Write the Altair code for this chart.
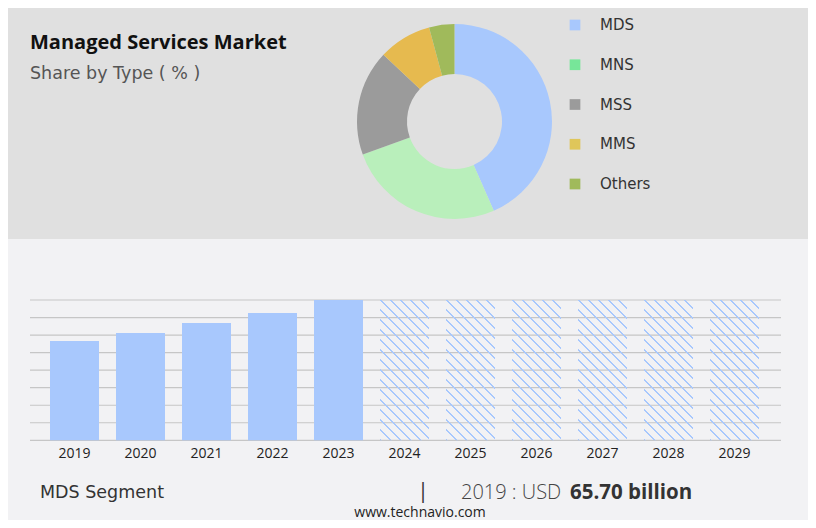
import altair as alt
import pandas as pd

# ---------------- data ----------------
types = ["MDS", "MNS", "MSS", "MMS", "Others"]
shares = [43.4, 26.1, 17.5, 8.8, 4.2]
slice_colors = ["#a8c8fd", "#b9efbb", "#9b9b9b", "#e6ba4f", "#a0ba5b"]
legend_colors = ["#a8c8fd", "#77e699", "#9b9b9b", "#dfc65a", "#a0ba5b"]

hist_years = ["2019", "2020", "2021", "2022", "2023"]
hist_values = [65.70, 71.0, 77.6, 84.2, 92.8]
fc_years = ["2024", "2025", "2026", "2027", "2028", "2029"]
all_years = hist_years + fc_years
Y_TOP = 92.8
grid_values = [0, 11.6, 23.2, 34.8, 46.4, 58.0, 69.6, 81.2, 92.8]

W, H = 800, 512
BAR_BLUE = "#a8c8fd"
FONT = "Open Sans"

# ---------------- scales ----------------
x_scale = alt.Scale(domain=all_years, range=[22, 771], paddingInner=0.2576, paddingOuter=0.303)
y_scale = alt.Scale(domain=[0, Y_TOP], range=[432.3, 292], nice=False, zero=True)

# hatch pattern via hard-stop linear gradient (diagonal stripes)
N = 19
stops = []
for i in range(N):
    a = i / N
    b = (i + 0.2) / N
    c = (i + 1) / N
    stops += [
        alt.GradientStop(offset=a, color=BAR_BLUE),
        alt.GradientStop(offset=b, color=BAR_BLUE),
        alt.GradientStop(offset=b, color="rgba(168,200,253,0)"),
        alt.GradientStop(offset=c, color="rgba(168,200,253,0)"),
    ]
hatch = alt.LinearGradient(gradient="linear", stops=stops, x1=0, y1=1, x2=0.421, y2=-0.203)

# ---------------- layers ----------------
one = pd.DataFrame({"k": [0]})

top_bg = alt.Chart(one).mark_rect(color="#e0e0e0").encode(
    x=alt.value(0), x2=alt.value(W), y=alt.value(0), y2=alt.value(231)
)

title = alt.Chart(pd.DataFrame({"t": ["Managed Services Market"]})).mark_text(
    align="left", baseline="middle", font=FONT, fontSize=20, fontWeight="bold", color="#111111"
).encode(text="t:N", x=alt.value(22), y=alt.value(35))

subtitle = alt.Chart(pd.DataFrame({"t": ["Share by Type ( % )"]})).mark_text(
    align="left", baseline="middle", font="DejaVu Sans", fontSize=17.5, color="#555555"
).encode(text="t:N", x=alt.value(22), y=alt.value(66))

pie_df = pd.DataFrame({"type": types, "share": shares, "idx": list(range(len(types)))})
donut = alt.Chart(pie_df).mark_arc(outerRadius=97.5, innerRadius=47.5).encode(
    theta=alt.Theta("share:Q", stack=True),
    order=alt.Order("idx:Q"),
    color=alt.Color("type:N", scale=alt.Scale(domain=types, range=slice_colors), legend=None),
    x=alt.value(446.5),
    y=alt.value(113.5),
)

leg_df = pd.DataFrame({"type": types})
leg_y = alt.Y("type:N", scale=alt.Scale(domain=types, range=[17, 176], type="point", padding=0), axis=None)
leg_sq = alt.Chart(leg_df).mark_square(size=115, opacity=1).encode(
    y=leg_y,
    x=alt.value(567),
    fill=alt.Fill("type:N", scale=alt.Scale(domain=types, range=legend_colors), legend=None),
)
leg_txt = alt.Chart(leg_df).mark_text(
    align="left", baseline="middle", font="DejaVu Sans", fontSize=15, color="#333333"
).encode(y=leg_y, x=alt.value(592), text="type:N")

grid = alt.Chart(pd.DataFrame({"v": grid_values})).mark_rule(color="#c6c6c6", strokeWidth=1.2).encode(
    y=alt.Y("v:Q", scale=y_scale, axis=None), x=alt.value(22), x2=alt.value(773)
)

hist_df = pd.DataFrame({"year": hist_years, "value": hist_values})
bars = alt.Chart(hist_df).mark_bar(color=BAR_BLUE).encode(
    x=alt.X("year:N", scale=x_scale, axis=None),
    y=alt.Y("value:Q", scale=y_scale, axis=None),
)

fc_df = pd.DataFrame({"year": fc_years, "value": [Y_TOP] * len(fc_years)})
fc_bars = alt.Chart(fc_df).mark_bar(color=hatch).encode(
    x=alt.X("year:N", scale=x_scale, axis=None),
    y=alt.Y("value:Q", scale=y_scale, axis=None),
)

year_lbl = alt.Chart(pd.DataFrame({"year": all_years})).mark_text(
    baseline="middle", font=FONT, fontSize=14, color="#222222"
).encode(x=alt.X("year:N", scale=x_scale, axis=None), y=alt.value(446), text="year:N")

seg = alt.Chart(pd.DataFrame({"t": ["MDS Segment"]})).mark_text(
    align="left", baseline="middle", font="DejaVu Sans", fontSize=17.5, color="#333333"
).encode(text="t:N", x=alt.value(32), y=alt.value(485))

bar_sep = alt.Chart(pd.DataFrame({"t": ["|"]})).mark_text(
    align="center", baseline="middle", font=FONT, fontSize=21, color="#333333"
).encode(text="t:N", x=alt.value(415), y=alt.value(484))

val_a = alt.Chart(pd.DataFrame({"t": ["2019 : USD"]})).mark_text(
    align="left", baseline="middle", font=FONT, fontSize=20, fontWeight=300, color="#444444"
).encode(text="t:N", x=alt.value(453), y=alt.value(485))

val_b = alt.Chart(pd.DataFrame({"t": ["65.70 billion"]})).mark_text(
    align="left", baseline="middle", font=FONT, fontSize=20.5, fontWeight="bold", color="#333333"
).encode(text="t:N", x=alt.value(562), y=alt.value(485))

site = alt.Chart(pd.DataFrame({"t": ["www.technavio.com"]})).mark_text(
    align="center", baseline="middle", font=FONT, fontSize=14, color="#222222"
).encode(text="t:N", x=alt.value(412), y=alt.value(505))

chart = alt.layer(
    top_bg, title, subtitle, donut, leg_sq, leg_txt,
    grid, bars, fc_bars, year_lbl, seg, bar_sep, val_a, val_b, site,
).resolve_scale(
    y="independent", color="independent", fill="independent"
).properties(
    width=W, height=H, padding=0,
    autosize=alt.AutoSizeParams(type="none"),
    background="#f2f2f4",
).configure_view(stroke=None)

chart.save("out.html", embed_options={"renderer": "svg", "actions": False})
